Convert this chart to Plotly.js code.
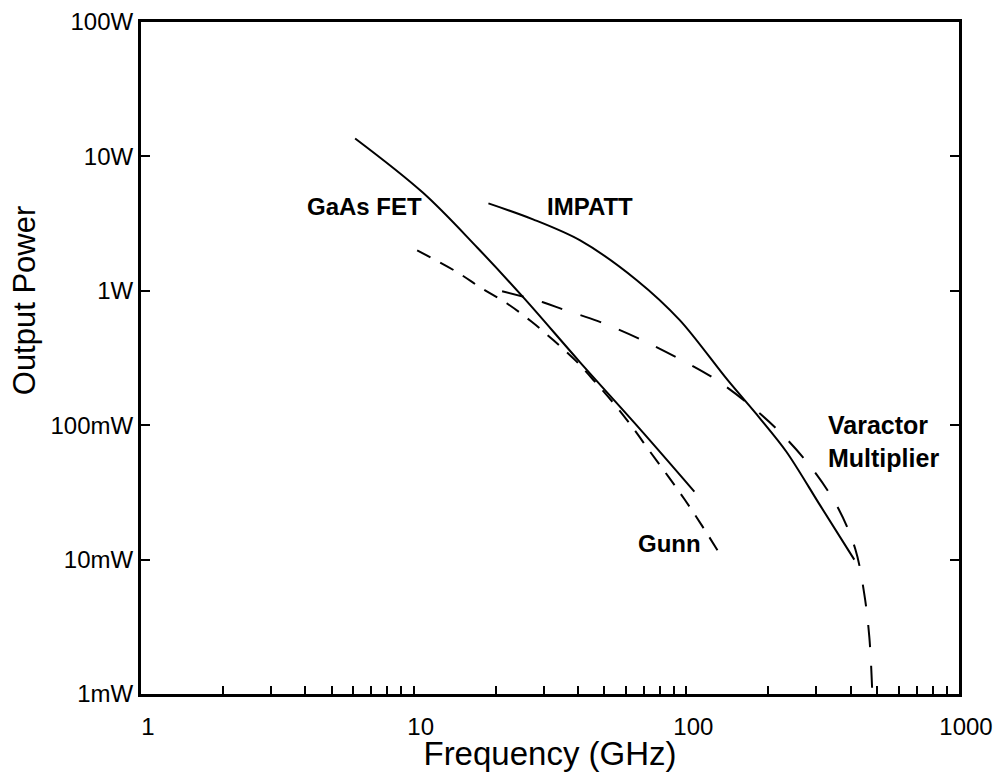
<!DOCTYPE html>
<html>
<head>
<meta charset="utf-8">
<script src="https://cdn.plot.ly/plotly-3.0.1.min.js"></script>
<style>html,body{margin:0;padding:0;background:#fff;}#chart{width:1001px;height:772px;}</style>
</head>
<body>
<div id="chart"></div>
<script>
// ---- data (frequency in GHz, power in W) ----
const gaasFreq   = [6.1, 10.8, 17.1, 25.2, 40.7, 67.5, 107];
const gaasPower  = [13.6, 5.38, 2.10, 0.897, 0.295, 0.094, 0.0321];

const gunnFreq   = [10.3, 14.4, 17.8, 22.0, 27.1, 32.5, 39.1, 46.2, 54.7, 63.8, 73.5, 85.8, 98.6, 113.5, 130.6];
const gunnPower  = [2.0, 1.38, 1.04, 0.805, 0.588, 0.430, 0.305, 0.211, 0.142, 0.0951, 0.0638, 0.0416, 0.0280, 0.0182, 0.0116];

const impattFreq  = [18.8, 27.4, 40.8, 65.8, 94.6, 141.6, 185.5, 232.8, 310, 413];
const impattPower = [4.47, 3.40, 2.37, 1.20, 0.605, 0.217, 0.1135, 0.0635, 0.0252, 0.0100];

const varFreq  = [21.1, 29.8, 35.9, 47.4, 66.4, 93.0, 129, 179.5, 230.8, 295, 361, 417, 449, 469, 481];
const varPower = [0.993, 0.822, 0.718, 0.595, 0.445, 0.316, 0.217, 0.130, 0.0807, 0.0451, 0.0240, 0.0119, 0.00561, 0.00265, 0.001];

const xTickVals = [1,2,3,4,5,6,7,8,9,10,20,30,40,50,60,70,80,90,100,200,300,400,500,600,700,800,900,1000];
const xTickText = ['1','','','','','','','','','10','','','','','','','','','100','','','','','','','','','1000'];
const yTickVals = [0.001, 0.01, 0.1, 1, 10, 100];
const yTickText = ['1mW', '10mW', '100mW', '1W', '10W', '100W'];

const FONT = 'Liberation Sans, Arial, Helvetica, sans-serif';

function curve(x, y, name, dash, smooth) {
  return {
    x: x, y: y, name: name, type: 'scatter', mode: 'lines',
    line: {color: '#000', width: 2, dash: dash, shape: 'spline', smoothing: smooth},
    hoverinfo: 'x+y+name'
  };
}

const traces = [
  curve(gaasFreq, gaasPower, 'GaAs FET', 'solid', 1.0),
  curve(gunnFreq, gunnPower, 'Gunn', '15px,11px', 1.0),
  curve(impattFreq, impattPower, 'IMPATT', 'solid', 0.9),
  curve(varFreq, varPower, 'Varactor Multiplier', '22px,19px', 1.0)
];

const axisCommon = {
  type: 'log', showgrid: false, zeroline: false,
  showline: true, linecolor: '#000', linewidth: 3,
  ticks: 'inside', tickcolor: '#000', tickwidth: 2,
  tickmode: 'array',
  tickfont: {family: FONT, size: 24, color: '#000'}
};

const layout = {
  width: 1001, height: 772,
  paper_bgcolor: '#fff', plot_bgcolor: '#fff',
  margin: {l: 141, r: 42, t: 22, b: 78, pad: 0},
  showlegend: false,
  font: {family: FONT, color: '#000'},
  xaxis: Object.assign({}, axisCommon, {
    range: [0, 3], mirror: true, ticklen: 8,
    tickvals: xTickVals, ticktext: xTickText,
    ticklabelstandoff: 9, ticklabelshift: 7,
    title: {text: 'Frequency (GHz)', font: {family: FONT, size: 33, color: '#000'}, standoff: 2}
  }),
  yaxis: Object.assign({}, axisCommon, {
    range: [-3, 2], mirror: 'ticks', ticklen: 9,
    tickvals: yTickVals, ticktext: yTickText,
    ticklabelstandoff: 0
  }),
  annotations: [
    {text: 'Output Power', xref: 'paper', yref: 'paper', x: -0.143, y: 0.586,
     textangle: -90, showarrow: false, xanchor: 'center', yanchor: 'middle',
     font: {family: FONT, size: 31, color: '#000'}},
    {text: '<b>GaAs FET</b>', x: 0.8195, y: 0.628, showarrow: false,
     font: {family: FONT, size: 24, color: '#000'}},
    {text: '<b>IMPATT</b>', x: 1.646, y: 0.628, showarrow: false,
     font: {family: FONT, size: 24, color: '#000'}},
    {text: '<b>Gunn</b>', x: 1.939, y: -1.88, showarrow: false,
     font: {family: FONT, size: 24, color: '#000'}},
    {text: '<b>Varactor<br>Multiplier</b>', x: 2.514, y: -1.119, showarrow: false,
     xanchor: 'left', align: 'left',
     font: {family: FONT, size: 25, color: '#000'}}
  ]
};

Plotly.newPlot('chart', traces, layout, {displayModeBar: false, staticPlot: true});
</script>
</body>
</html>
